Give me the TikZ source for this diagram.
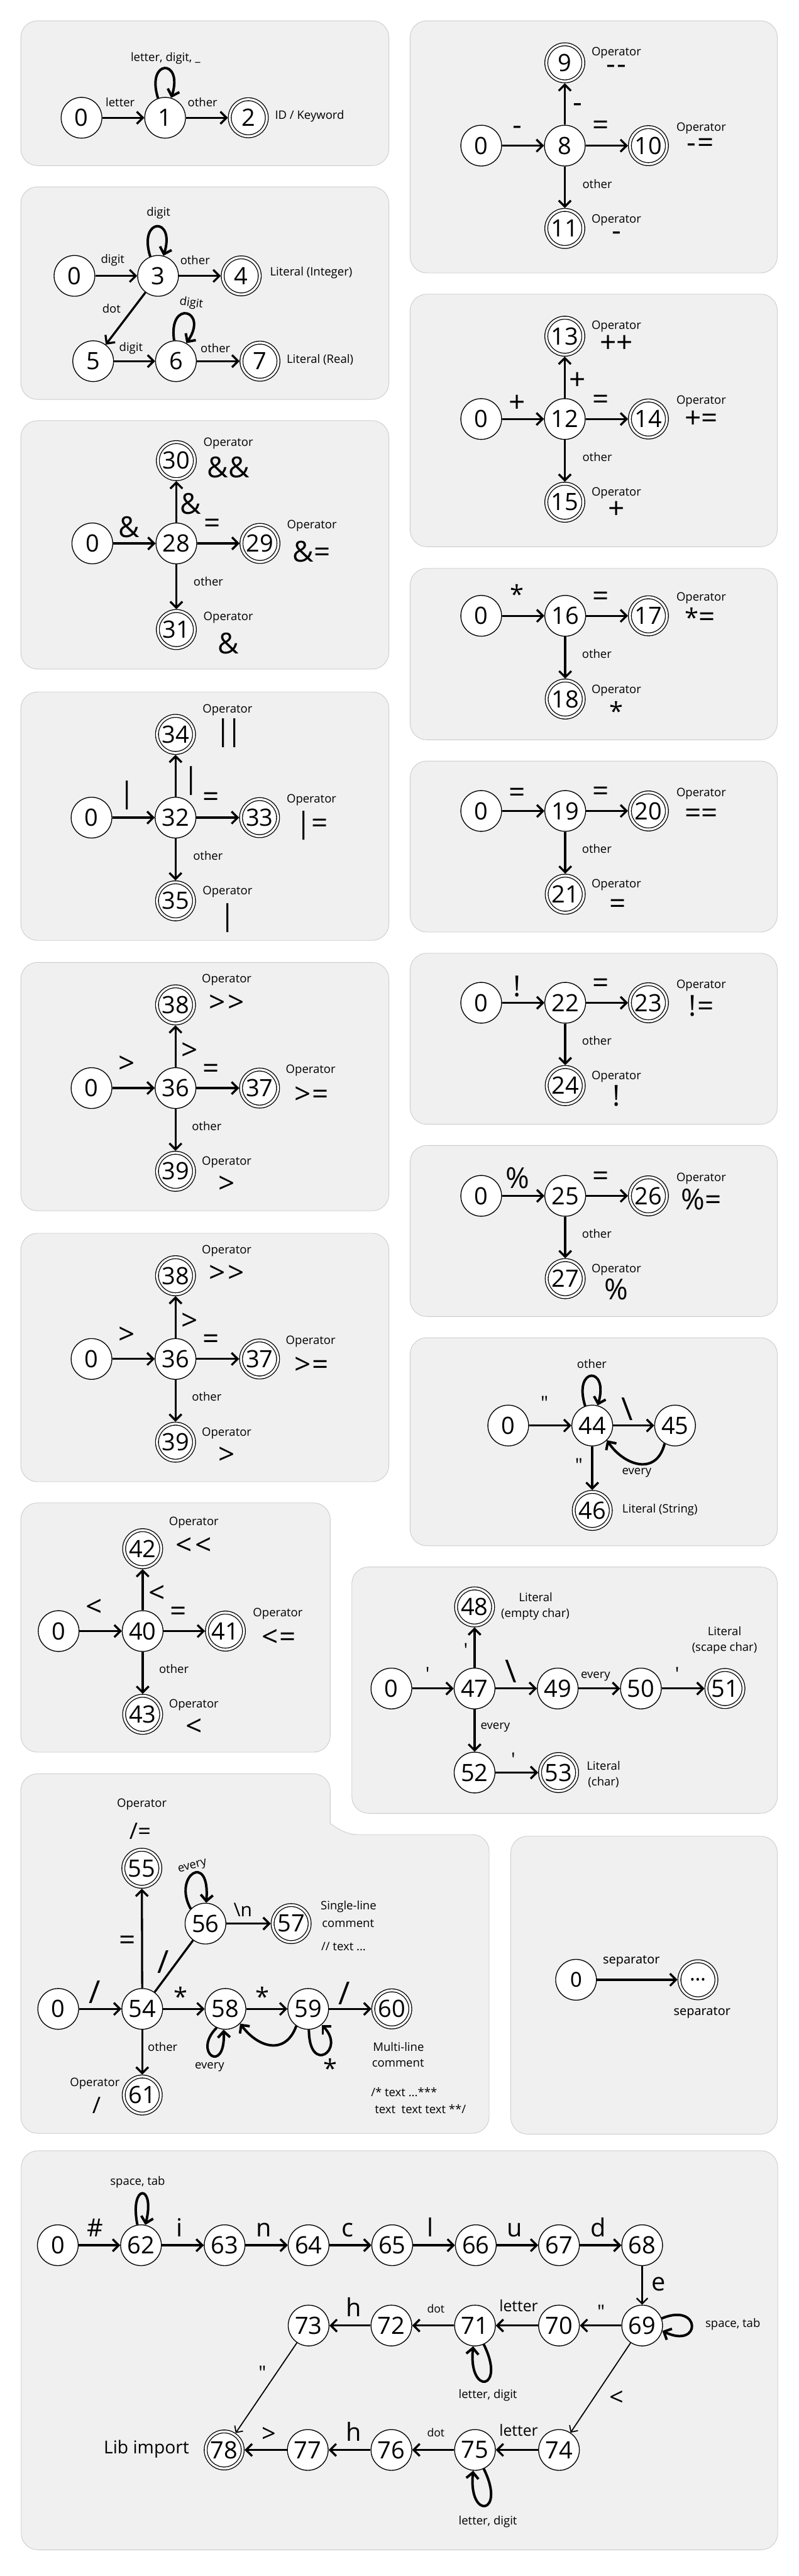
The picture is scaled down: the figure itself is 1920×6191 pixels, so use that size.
\documentclass[tikz,border=0pt]{standalone}
\usepackage{fontspec}
\setmainfont{Open Sans}[Ligatures=TeXOff]
\newfontfamily\sepfont{Noto Sans}[Ligatures=TeXOff]
\usetikzlibrary{arrows.meta}
\definecolor{panelfill}{RGB}{240,240,240}
\definecolor{panelline}{RGB}{204,204,204}
\newcommand\fnum{\fontsize{43pt}{43pt}\selectfont}
\newcommand\fsm{\fontsize{21pt}{24pt}\selectfont}
\newcommand\fbig{\fontsize{52pt}{52pt}\selectfont}
\newcommand\fhuge{\fontsize{57pt}{57pt}\selectfont}
\newcommand\fmid{\fontsize{34pt}{34pt}\selectfont}
\newcommand\fbl{\fontsize{45pt}{45pt}\selectfont}
\newcommand\fml{\fontsize{28pt}{28pt}\selectfont}
\newcommand\ftiny{\fontsize{20pt}{20pt}\selectfont}
\newcommand\fop{\fontsize{41pt}{41pt}\selectfont}
\newcommand\flib{\fontsize{32pt}{32pt}\selectfont}
\newcommand\fsep{\fontsize{22.5pt}{24pt}\sepfont}
\newcommand\fsepn{\fontsize{37pt}{37pt}\sepfont}
\tikzset{
  panel/.style={fill=panelfill, draw=panelline, line width=1pt, rounded corners=30pt},
  st/.style={circle, draw=black, fill=white, line width=1.5pt, minimum size=73.5pt, inner sep=0pt, font=\fnum},
  acc/.style={st, minimum size=66.75pt, double=white, double distance=3.75pt, outer sep=3.4pt},
  tr/.style={line width=3.75pt, -{Straight Barb[length=11pt,width=22pt]}},
  trmid/.style={line width=2.6pt, -{Straight Barb[length=10pt,width=20pt]}},
  trthin/.style={line width=2pt, -{Straight Barb[length=9pt,width=18pt]}},
  lp/.style={line width=4.5pt, -{Straight Barb[length=11pt,width=22pt]}},
  lbl/.style={inner sep=0pt, font=\fsm},
  sym/.style={inner sep=0pt, font=\fbig},
  msym/.style={inner sep=0pt, font=\fmid},
  asym/.style={inner sep=0pt, font=\fbl},
  bsym/.style={inner sep=0pt, font=\fbl, anchor=base},
}
\begin{document}
\begin{tikzpicture}[x=0.75pt,y=-0.75pt]
\fill[white] (0,0) rectangle (1920,6191);
\useasboundingbox (0,0) rectangle (1920,6191);

% ---------- Panel A: identifiers
\draw[panel] (50,50) rectangle (935,398);
\node[st] (A0) at (196,283) {0};
\node[st] (A1) at (397,283) {1};
\node[acc] (A2) at (597,283) {2};
\draw[tr] (A0) -- (A1);
\draw[tr] (A1) -- (A2);
\draw[lp] (A1.110) .. controls +(-30,-95) and +(30,-95) .. (A1.73);
\node[lbl] (A0l) at (289,245) {letter};
\node[lbl] (A1l) at (487,245) {other};
\node[lbl] (A1s) at (398,140) {letter, digit, \_};
\node[lbl, anchor=west] (A2l) at (661,279) {ID / Keyword};

% ---------- Panel B: numbers
\draw[panel] (50,449) rectangle (935,960);
\node[st] (B0) at (179,663) {0};
\node[st] (B3) at (380,663) {3};
\node[acc] (B4) at (580,663) {4};
\node[st] (B5) at (224,868) {5};
\node[st] (B6) at (423,868) {6};
\node[acc] (B7) at (625,868) {7};
\draw[tr] (B0) -- (B3);
\draw[tr] (B3) -- (B4);
\draw[tr] (B3) -- (B5);
\draw[tr] (B5) -- (B6);
\draw[tr] (B6) -- (B7);
\draw[lp] (B3.112) .. controls +(-30,-95) and +(30,-95) .. (B3.75);
\draw[lp] (B6.95) .. controls +(-15,-100) and +(55,-80) .. (B6.60);
\node[lbl] (B0l) at (271,625) {digit};
\node[lbl] (B3l) at (469,625) {other};
\node[lbl, anchor=west] (B4l) at (649,656) {Literal (Integer)};
\node[lbl] (B3d) at (268,741) {dot};
\node[lbl] (B5l) at (315,837) {digit};
\node[lbl] (B6l) at (518,836) {other};
\node[lbl, anchor=west] (B7l) at (689,864) {Literal (Real)};
\node[lbl] (B3s) at (381,512) {digit};
\node[lbl, rotate=-8] (B6s) at (460,729) {digit};

% ---------- Panel C: &
\draw[panel] (50,1011) rectangle (935,1608);
\node[st] (C0) at (222,1306) {0};
\node[st] (C28) at (424,1306) {28};
\node[acc] (C29) at (625,1306) {29};
\node[acc] (C30) at (424,1107) {30};
\node[acc] (C31) at (424,1513) {31};
\draw[tr] (C0) -- (C28);
\draw[tr] (C28) -- (C29);
\draw[tr] (C28) -- (C30);
\draw[tr] (C28) -- (C31);
\node[sym] (C0l) at (310,1266) {\&};
\node[sym] (C28u) at (459,1211) {\&};
\node[sym] (C28r) at (510,1264) {=};
\node[lbl] (C28d) at (501,1398) {other};
\node[lbl] (C30a) at (549,1066) {Operator};
\node[sym] (C30b) at (549,1123) {\&\&};
\node[lbl] (C29a) at (750,1264) {Operator};
\node[sym] (C29b) at (749,1326) {\&=};
\node[lbl] (C31a) at (549,1485) {Operator};
\node[sym] (C31b) at (549,1547) {\&};

% ---------- Panel D: |
\draw[panel] (50,1663) rectangle (935,2260);
\node[st] (D0) at (220,1965) {0};
\node[st] (D32) at (422,1965) {32};
\node[acc] (D33) at (624,1965) {33};
\node[acc] (D34) at (422,1765) {34};
\node[acc] (D35) at (422,2165) {35};
\draw[tr] (D0) -- (D32);
\draw[tr] (D32) -- (D33);
\draw[tr] (D32) -- (D34);
\draw[tr] (D32) -- (D35);
\node[sym] (D0l) at (306,1911) {|};
\node[sym] (D32u) at (459,1876) {|};
\node[sym] (D32r) at (508,1922) {=};
\node[lbl] (D32d) at (500,2057) {other};
\node[lbl] (D34a) at (547,1706) {Operator};
\node[sym] (D34b) at (550,1762) {|\kern-8pt|};
\node[lbl] (D33a) at (749,1923) {Operator};
\node[sym] (D33b) at (750,1984) {|=};
\node[lbl] (D35a) at (547,2144) {Operator};
\node[sym] (D35b) at (547,2206) {|};

% ---------- Panel E: >
\draw[panel] (50,2313) rectangle (935,2910);
\node[st] (E0) at (220,2615) {0};
\node[st] (E36) at (422,2615) {36};
\node[acc] (E37) at (624,2615) {37};
\node[acc] (E38) at (422,2415) {38};
\node[acc] (E39) at (422,2815) {39};
\draw[tr] (E0) -- (E36);
\draw[tr] (E36) -- (E37);
\draw[tr] (E36) -- (E38);
\draw[tr] (E36) -- (E39);
\node[sym] (E0l) at (305,2559) {>};
\node[sym] (E36u) at (456,2526) {>};
\node[sym] (E36r) at (507,2574) {=};
\node[lbl] (E36d) at (497,2706) {other};
\node[lbl] (E38a) at (545,2355) {Operator};
\node[sym] (E38b) at (545,2411) {>\kern5pt>};
\node[lbl] (E37a) at (747,2573) {Operator};
\node[sym] (E37b) at (749,2632) {>\kern2pt=};
\node[lbl] (E39a) at (545,2793) {Operator};
\node[sym] (E39b) at (545,2847) {>};

% ---------- Panel F: > (repeated)
\draw[panel] (50,2964) rectangle (935,3561);
\node[st] (F0) at (220,3266) {0};
\node[st] (F36) at (422,3266) {36};
\node[acc] (F37) at (624,3266) {37};
\node[acc] (F38) at (422,3066) {38};
\node[acc] (F39) at (422,3466) {39};
\draw[tr] (F0) -- (F36);
\draw[tr] (F36) -- (F37);
\draw[tr] (F36) -- (F38);
\draw[tr] (F36) -- (F39);
\node[sym] (F0l) at (305,3210) {>};
\node[sym] (F36u) at (456,3177) {>};
\node[sym] (F36r) at (507,3225) {=};
\node[lbl] (F36d) at (497,3357) {other};
\node[lbl] (F38a) at (545,3006) {Operator};
\node[sym] (F38b) at (545,3062) {>\kern5pt>};
\node[lbl] (F37a) at (747,3224) {Operator};
\node[sym] (F37b) at (749,3283) {>\kern2pt=};
\node[lbl] (F39a) at (545,3444) {Operator};
\node[sym] (F39b) at (545,3498) {>};

% ---------- Panel G: <
\draw[panel] (50,3612) rectangle (794,4211);
\node[st] (G0) at (141,3920) {0};
\node[st] (G40) at (343,3920) {40};
\node[acc] (G41) at (542,3920) {41};
\node[acc] (G42) at (343,3722) {42};
\node[acc] (G43) at (343,4120) {43};
\draw[tr] (G0) -- (G40);
\draw[tr] (G40) -- (G41);
\draw[tr] (G40) -- (G42);
\draw[tr] (G40) -- (G43);
\node[sym] (G0l) at (226,3864) {<};
\node[sym] (G40u) at (377,3831) {<};
\node[sym] (G40r) at (428,3879) {=};
\node[lbl] (G40d) at (418,4011) {other};
\node[lbl] (G42a) at (466,3660) {Operator};
\node[sym] (G42b) at (466,3716) {<\kern5pt<};
\node[lbl] (G41a) at (668,3878) {Operator};
\node[sym] (G41b) at (670,3937) {<\kern2pt=};
\node[lbl] (G43a) at (466,4098) {Operator};
\node[sym] (G43b) at (466,4152) {<};

% ---------- Panel H: -
\draw[panel] (986,50) rectangle (1869,656);
\node[st] (H0) at (1157,350) {0};
\node[st] (H8) at (1358,350) {8};
\node[acc] (H10) at (1559,350) {10};
\node[acc] (H9) at (1358,151) {9};
\node[acc] (H11) at (1358,549) {11};
\draw[tr] (H0) -- (H8);
\draw[tr] (H8) -- (H10);
\draw[tr] (H8) -- (H9);
\draw[tr] (H8) -- (H11);
\node[sym] (H0l) at (1244,314) {-};
\node[sym] (H8u) at (1389,259) {-};
\node[sym] (H8r) at (1445,308) {=};
\node[lbl] (H8d) at (1436,442) {other};
\node[lbl] (H9a) at (1482,127) {Operator};
\node[sym] (H9b) at (1482,167) {-\kern3pt-};
\node[lbl] (H10a) at (1686,308) {Operator};
\node[sym] (H10b) at (1684,350) {-\kern3pt=};
\node[lbl] (H11a) at (1482,529) {Operator};
\node[sym] (H11b) at (1482,568) {-};

% ---------- Panel I: +
\draw[panel] (986,707) rectangle (1869,1314);
\node[st] (I0) at (1157,1007) {0};
\node[st] (I12) at (1358,1007) {12};
\node[acc] (I14) at (1559,1007) {14};
\node[acc] (I13) at (1358,808) {13};
\node[acc] (I15) at (1358,1207) {15};
\draw[tr] (I0) -- (I12);
\draw[tr] (I12) -- (I14);
\draw[tr] (I12) -- (I13);
\draw[tr] (I12) -- (I15);
\node[sym] (I0l) at (1243,970) {+};
\node[sym] (I12u) at (1389,916) {+};
\node[sym] (I12r) at (1445,966) {=};
\node[lbl] (I12d) at (1436,1098) {other};
\node[lbl] (I13a) at (1482,784) {Operator};
\node[sym] (I13b) at (1482,827) {++};
\node[lbl] (I14a) at (1686,965) {Operator};
\node[sym] (I14b) at (1686,1008) {+=};
\node[lbl] (I15a) at (1482,1185) {Operator};
\node[sym] (I15b) at (1482,1226) {+};

% ---------- Panel J: *
\draw[panel] (986,1366) rectangle (1869,1778);
\node[st] (J0) at (1157,1480) {0};
\node[st] (J16) at (1359,1480) {16};
\node[acc] (J17) at (1559,1480) {17};
\node[acc] (J18) at (1359,1680) {18};
\draw[tr] (J0) -- (J16);
\draw[tr] (J16) -- (J17);
\draw[tr] (J16) -- (J18);
\node[asym] (J0l) at (1243,1428) {*};
\node[sym] (J16r) at (1445,1439) {=};
\node[lbl] (J17a) at (1686,1438) {Operator};
\node[sym] (J17b) at (1683,1484) {{\fbl *}=};
\node[lbl] (J16d) at (1435,1571) {other};
\node[lbl] (J18a) at (1482,1659) {Operator};
\node[asym] (J18b) at (1482,1708) {*};

% ---------- Panel K: =
\draw[panel] (986,1829) rectangle (1869,2240);
\node[st] (K0) at (1157,1949) {0};
\node[st] (K19) at (1359,1949) {19};
\node[acc] (K20) at (1559,1949) {20};
\node[acc] (K21) at (1359,2149) {21};
\draw[tr] (K0) -- (K19);
\draw[tr] (K19) -- (K20);
\draw[tr] (K19) -- (K21);
\node[sym] (K0l) at (1243,1911) {=};
\node[sym] (K19r) at (1445,1908) {=};
\node[lbl] (K20a) at (1686,1907) {Operator};
\node[sym] (K20b) at (1686,1961) {==};
\node[lbl] (K19d) at (1435,2040) {other};
\node[lbl] (K21a) at (1482,2127) {Operator};
\node[sym] (K21b) at (1485,2178) {=};

% ---------- Panel L: !
\draw[panel] (986,2291) rectangle (1869,2702);
\node[st] (L0) at (1157,2410) {0};
\node[st] (L22) at (1359,2410) {22};
\node[acc] (L23) at (1559,2410) {23};
\node[acc] (L24) at (1359,2609) {24};
\draw[tr] (L0) -- (L22);
\draw[tr] (L22) -- (L23);
\draw[tr] (L22) -- (L24);
\node[sym] (L0l) at (1244,2370) {!};
\node[sym] (L22r) at (1445,2369) {=};
\node[lbl] (L23a) at (1686,2368) {Operator};
\node[sym] (L23b) at (1686,2417) {!\kern2pt=};
\node[lbl] (L22d) at (1435,2501) {other};
\node[lbl] (L24a) at (1482,2588) {Operator};
\node[sym] (L24b) at (1482,2634) {!};

% ---------- Panel M: %
\draw[panel] (986,2753) rectangle (1869,3164);
\node[st] (M0) at (1157,2874) {0};
\node[st] (M25) at (1359,2874) {25};
\node[acc] (M26) at (1559,2874) {26};
\node[acc] (M27) at (1359,3073) {27};
\draw[tr] (M0) -- (M25);
\draw[tr] (M25) -- (M26);
\draw[tr] (M25) -- (M27);
\node[sym] (M0l) at (1244,2831) {\%};
\node[sym] (M25r) at (1445,2833) {=};
\node[lbl] (M26a) at (1686,2832) {Operator};
\node[sym] (M26b) at (1686,2882) {\%=};
\node[lbl] (M25d) at (1435,2965) {other};
\node[lbl] (M27a) at (1482,3052) {Operator};
\node[sym] (M27b) at (1482,3099) {\%};

% ---------- Panel N: strings
\draw[panel] (986,3215) rectangle (1869,3715);
\node[st] (N0) at (1222,3426) {0};
\node[st] (N44) at (1424,3426) {44};
\node[st] (N45) at (1623,3426) {45};
\node[acc] (N46) at (1424,3630) {46};
\draw[tr] (N0) -- (N44);
\draw[tr] (N44) -- (N45);
\draw[tr] (N44) -- (N46);
\draw[lp] (N44.110) .. controls +(-30,-95) and +(28,-95) .. (N44.75);
\draw[lp] (N45.-120) .. controls +(-20,80) and +(40,60) .. (N44.-45);
\node[msym] (N0l) at (1309,3371) {"};
\node[sym, font=\fhuge] (N44r) at (1508,3386) {\textbackslash};
\node[lbl] (N44s) at (1423,3278) {other};
\node[lbl] (N45l) at (1531,3539) {every};
\node[msym] (N44d) at (1392,3522) {"};
\node[lbl, anchor=west] (N46l) at (1496,3629) {Literal (String)};

% ---------- Panel O: chars
\draw[panel] (846,3766) rectangle (1869,4358);
\node[st] (O0) at (941,4058) {0};
\node[st] (O47) at (1141,4058) {47};
\node[st] (O49) at (1341,4058) {49};
\node[st] (O50) at (1541,4058) {50};
\node[acc] (O51) at (1743,4058) {51};
\node[acc] (O48) at (1141,3862) {48};
\node[st] (O52) at (1141,4260) {52};
\node[acc] (O53) at (1343,4260) {53};
\draw[tr] (O0) -- (O47);
\draw[tr] (O47) -- (O49);
\draw[tr] (O49) -- (O50);
\draw[tr] (O50) -- (O51);
\draw[tr] (O47) -- (O48);
\draw[tr] (O47) -- (O52);
\draw[tr] (O52) -- (O53);
\node[msym] (O0l) at (1028,4023) {'};
\node[sym, font=\fhuge] (O47r) at (1228,4017) {\textbackslash};
\node[lbl] (O49l) at (1432,4029) {every};
\node[msym] (O50l) at (1628,4023) {'};
\node[msym] (O47u) at (1120,3966) {'};
\node[lbl] (O47d) at (1191,4151) {every};
\node[msym] (O52l) at (1234,4228) {'};
\node[lbl] (O48a) at (1288,3838) {Literal};
\node[lbl] (O48b) at (1287,3880) {(empty char)};
\node[lbl] (O51a) at (1742,3920) {Literal};
\node[lbl] (O51b) at (1742,3961) {(scape char)};
\node[lbl] (O53a) at (1451,4243) {Literal};
\node[lbl] (O53b) at (1451,4284) {(char)};

% ---------- Panel P: slash / comments
\draw[panel] (50,4263) -- (794,4263) -- (794,4343) [sharp corners] .. controls (794,4380) and (823,4409) .. (860,4409) [rounded corners=30pt] -- (1176,4409) -- (1176,5127) -- (50,5127) -- cycle;
\node[st] (P0) at (140,4828) {0};
\node[st] (P54) at (342,4828) {54};
\node[st] (P58) at (542,4828) {58};
\node[st] (P59) at (741,4828) {59};
\node[acc] (P60) at (942,4828) {60};
\node[acc] (P55) at (341,4490) {55};
\node[acc] (P61) at (342,5035) {61};
\node[st] (P56) at (494,4623) {56};
\node[acc] (P57) at (700,4623) {57};
\draw[tr] (P0) -- (P54);
\draw[tr] (P54) -- (P58);
\draw[tr] (P58) -- (P59);
\draw[tr] (P59) -- (P60);
\draw[tr] (P54) -- (P55);
\draw[tr] (P54) -- (P61);
\draw[line width=3.75pt] (P54) -- (P56);
\draw[tr] (P56) -- (P57);
\draw[lp] (P56.135) .. controls +(-45,-80) and +(10,-125) .. (P56.88);
\draw[lp] (P58.-115) .. controls +(-60,60) and +(5,110) .. (P58.-95);
\draw[lp] (P59.-88) .. controls +(0,110) and +(60,60) .. (P59.-50);
\draw[lp] (P59.-125) .. controls +(-25,70) and +(45,60) .. (P58.-45);
\node[sym, font=\fhuge] (P0l) at (228,4787) {/};
\node[asym] (P54r) at (434,4798) {*};
\node[asym] (P58r) at (631,4798) {*};
\node[sym, font=\fhuge] (P59r) at (828,4791) {/};
\node[sym] (P54u) at (306,4669) {=};
\node[sym, font=\fhuge] (P54s) at (392,4715) {/};
\node[msym] (P56r) at (584,4590) {\textbackslash n};
\node[lbl, rotate=15] (P56l) at (463,4487) {every};
\node[lbl] (P54d) at (391,4919) {other};
\node[lbl] (P58l) at (504,4968) {every};
\node[asym] (P59l) at (794,4970) {*};
\node[lbl] (P55a) at (341,4336) {Operator};
\node[sym, font=\fop] (P55b) at (337,4401) {/=};
\node[lbl] (P61a) at (228,5008) {Operator};
\node[sym, font=\fop] (P61b) at (232,5059) {/};
\node[lbl] (P57a) at (838,4582) {Single-line};
\node[lbl] (P57b) at (837,4623) {comment};
\node[lbl] (P57c) at (826,4678) {// text ...};
\node[lbl] (P60a) at (958,4919) {Multi-line};
\node[lbl] (P60b) at (957,4959) {comment};
\node[lbl, anchor=west] (P60c) at (892,5028) {/* text ...***};
\node[lbl, anchor=west] (P60d) at (901,5068) {text\ \ text text **/};

% ---------- Panel Q: separator
\draw[panel] (1228,4413) rectangle (1869,5129);
\node[st, font=\fsepn] (Q0) at (1385,4758) {0};
\node[acc, font=\fsepn] (Q1) at (1678,4758) {…};
\draw[tr] (Q0) -- (Q1);
\node[lbl, font=\fsep] (Q0l) at (1518,4713) {separator};
\node[lbl, font=\fsep] (Q1l) at (1688,4837) {separator};

% ---------- Panel R: #include
\draw[panel] (51,5169) rectangle (1870,6128);
\node[st] (R0) at (139,5396) {0};
\node[st] (R62) at (339,5396) {62};
\node[st] (R63) at (540,5396) {63};
\node[st] (R64) at (742,5396) {64};
\node[st] (R65) at (943,5396) {65};
\node[st] (R66) at (1144,5396) {66};
\node[st] (R67) at (1344,5396) {67};
\node[st] (R68) at (1544,5396) {68};
\node[st] (R69) at (1544,5589) {69};
\node[st] (R70) at (1344,5589) {70};
\node[st] (R71) at (1142,5589) {71};
\node[st] (R72) at (941,5589) {72};
\node[st] (R73) at (742,5589) {73};
\node[st] (R74) at (1344,5888) {74};
\node[st] (R75) at (1142,5888) {75};
\node[st] (R76) at (941,5888) {76};
\node[st] (R77) at (740,5888) {77};
\node[acc] (R78) at (539,5888) {78};
\draw[tr] (R0) -- (R62);
\draw[tr] (R62) -- (R63);
\draw[tr] (R63) -- (R64);
\draw[tr] (R64) -- (R65);
\draw[tr] (R65) -- (R66);
\draw[tr] (R66) -- (R67);
\draw[tr] (R67) -- (R68);
\draw[trmid] (R68) -- (R69);
\draw[tr] (R69) -- (R70);
\draw[tr] (R70) -- (R71);
\draw[tr] (R71) -- (R72);
\draw[tr] (R72) -- (R73);
\draw[trthin] (R73) -- (R78);
\draw[trthin] (R69) -- (R74);
\draw[tr] (R74) -- (R75);
\draw[tr] (R75) -- (R76);
\draw[tr] (R76) -- (R77);
\draw[tr] (R77) -- (R78);
\draw[lp] (R62.100) .. controls +(-20,-100) and +(25,-100) .. (R62.78);
\draw[lp] (R69.20) .. controls +(95,-40) and +(95,45) .. (R69.-15);
\draw[lp] (R71.-65) .. controls +(55,110) and +(-12,120) .. (R71.-95);
\draw[lp] (R75.-65) .. controls +(55,110) and +(-12,120) .. (R75.-95);
\node[asym] (R0l) at (229,5354) {\#};
\node[bsym] (R62l) at (432,5375) {i};
\node[bsym] (R63l) at (634,5375) {n};
\node[bsym] (R64l) at (836,5375) {c};
\node[bsym] (R65l) at (1035,5375) {l};
\node[bsym] (R66l) at (1237,5375) {u};
\node[bsym] (R67l) at (1438,5375) {d};
\node[bsym] (R68l) at (1583,5506) {e};
\node[lbl] (R62s) at (331,5245) {space, tab};
\node[msym] (R69l) at (1445,5556) {"};
\node[inner sep=0pt, font=\fml, anchor=base] (R70l) at (1247,5555) {letter};
\node[inner sep=0pt, font=\ftiny, anchor=base] (R71l) at (1048,5559) {dot};
\node[bsym] (R72l) at (851,5568) {h};
\node[lbl] (R69s) at (1762,5586) {space, tab};
\node[lbl] (R71s) at (1173,5756) {letter, digit};
\node[msym] (R73l) at (631,5703) {"};
\node[asym] (R69d) at (1482,5764) {<};
\node[inner sep=0pt, font=\fml, anchor=base] (R74l) at (1247,5855) {letter};
\node[inner sep=0pt, font=\ftiny, anchor=base] (R75l) at (1048,5856) {dot};
\node[bsym] (R76l) at (851,5866) {h};
\node[asym] (R77l) at (646,5851) {>};
\node[lbl] (R75s) at (1173,6060) {letter, digit};
\node[inner sep=0pt, font=\flib, anchor=east] (R78l) at (455,5886) {Lib import};
\end{tikzpicture}
\end{document}
